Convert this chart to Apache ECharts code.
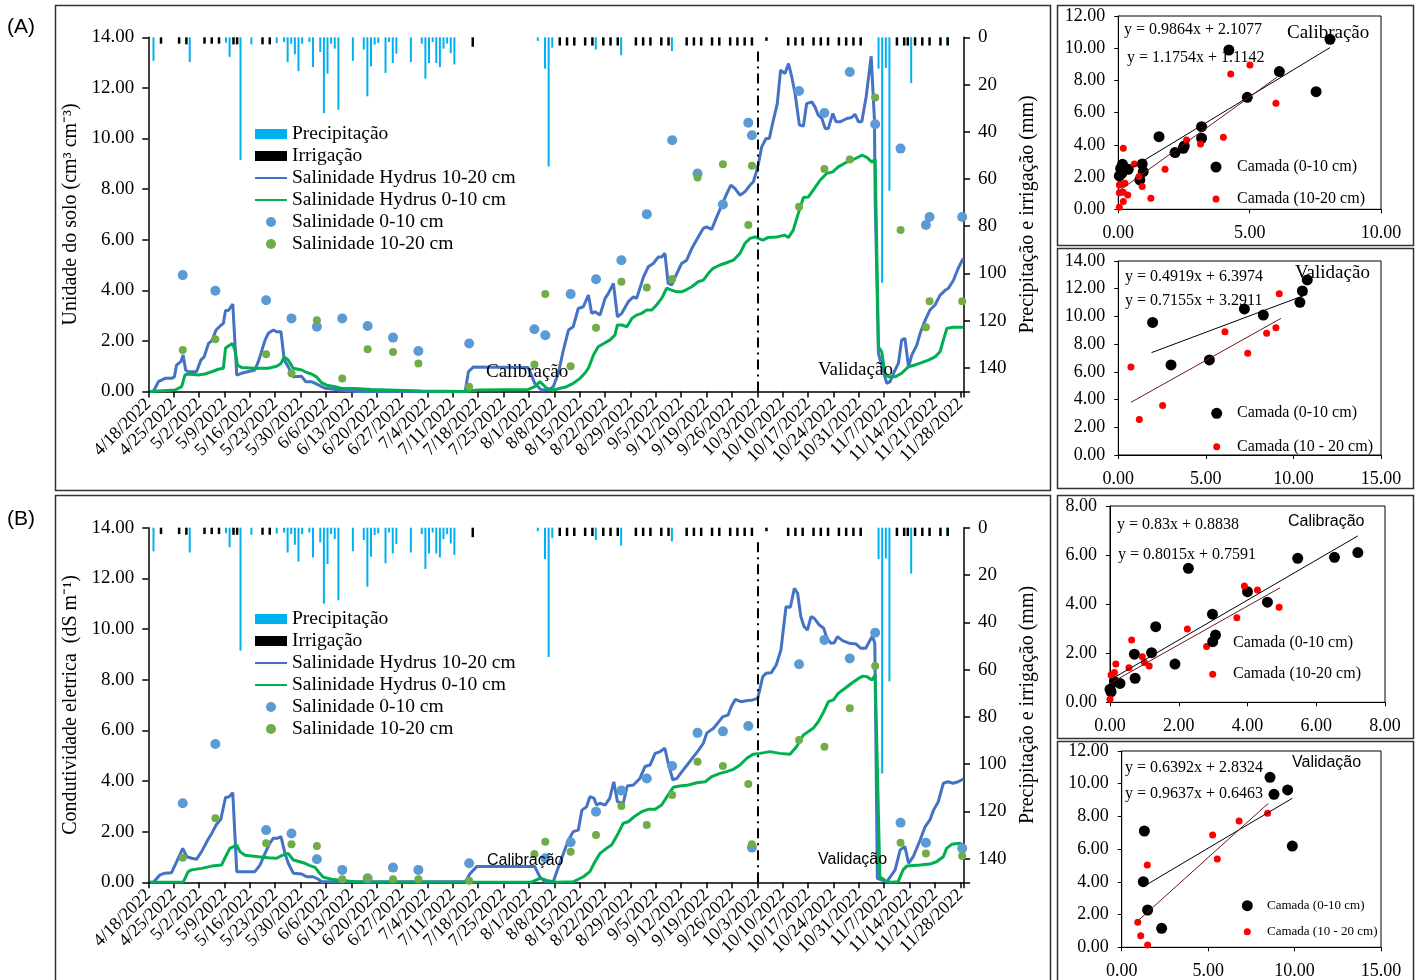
<!DOCTYPE html>
<html><head><meta charset="utf-8">
<script src="https://cdn.jsdelivr.net/npm/echarts@6/dist/echarts.min.js"></script>
<style>html,body{margin:0;padding:0;background:#fff}#c{width:1421px;height:980px}</style>
</head><body><div id="c"></div>
<script>
// ---------- DATA ----------
// day index counted from 4/18/2022
const precipDays = [1,11,21,22,25,28,35,37,38,39,40,41,42,44,45,47,48,49,50,51,52,56,59,60,61,62,63,65,66,67,68,72,75,76,77,78,79,80,81,82,83,84,107,109,110,111,123,130,144,201,202,203,204,210,220];
const precipMm   = [10,10.5,2.3,8.3,52,3,2.5,2,10.5,2.7,7.2,14.3,2.7,2,12.6,6.2,32.1,15.4,2.7,4.8,30.7,10,5.2,25,12.3,3.1,2.4,15.1,2,10.9,6.9,10.5,2.7,17.5,10.9,2,10.9,12.6,4.8,2.7,6.7,11.5,1.5,13.3,54.7,4.4,5.2,7.6,5.8,13.3,104,13,65,19.4,3];
const irrigDays  = [3,8,10,15,17,19,23,24,31,33,89,113,115,117,120,122,125,127,129,134,136,138,141,143,148,150,152,155,157,160,162,164,166,170,176,178,180,183,185,187,190,192,194,196,206,208,209,211,213,215,218,220];
const irrigMm    = [2.7,2.7,3,2.7,2.7,2.7,3,3,3,3,4,3.5,3.5,3.5,3.5,3.5,3.5,3.5,3.5,3.5,3.5,3.5,3.5,3.5,3.5,3.5,3.5,3.5,3.5,3.5,3.5,3.5,3.5,1.5,3.5,3.5,3.5,3.5,3.5,3.5,3.5,3.5,3.5,3.5,3.5,3.5,3.5,3.5,3.5,3.5,3.5,3.5];

const sampleDays = [9,18,32,39,46,53,60,67,74,88,106,109,116,123,130,137,144,151,158,165,166,179,186,193,200,207,214,215,224];
const obsA_0_10  = [4.6,3.98,3.61,2.89,2.56,2.89,2.59,2.13,1.6,1.9,2.46,2.22,3.85,4.44,5.19,7.01,9.93,8.62,7.39,10.62,10.13,11.88,11.01,12.63,10.56,9.6,6.58,6.9,6.9];
const obsA_10_20 = [1.64,2.07,1.47,0.72,2.82,0.51,1.67,1.56,1.11,0.19,1.07,3.85,1.0,2.52,4.34,4.11,4.45,8.46,8.98,6.58,8.92,7.3,8.79,9.17,11.62,6.38,2.54,3.57,3.57];
const obsB_0_10  = [3.12,5.46,2.06,1.93,0.91,0.49,0.16,0.58,0.49,0.75,null,0.95,1.58,2.79,3.62,4.1,4.59,5.9,5.96,6.17,1.37,8.61,9.57,8.84,9.85,2.35,1.56,null,1.34];
const obsB_10_20 = [0.97,2.53,1.54,1.5,1.43,0.12,0.18,0.12,0.12,0.06,1.12,1.6,1.21,1.87,3.01,2.26,3.45,4.76,4.59,3.88,1.5,5.62,5.35,6.87,8.54,1.56,1.14,null,1.04];

const hydrusA_10_20 = [[0,0],[0.9,0],[2.3,0.39],[4.1,0.52],[5.9,0.52],[6.7,0.58],[7.3,1.05],[8.5,1.18],[9.1,1.44],[9.8,0.85],[10.5,0.78],[12.8,0.78],[14.0,1.24],[14.9,1.37],[16.1,1.9],[17.0,2.0],[18.2,2.43],[19.6,2.63],[20.2,2.69],[20.8,3.2],[21.6,3.2],[22.8,3.46],[23.9,0.65],[25.2,0.72],[28.9,0.85],[30.0,1.24],[31.7,2.03],[32.6,2.3],[34.0,2.43],[34.9,2.36],[36.1,2.36],[37.0,1.24],[38.1,0.98],[39.5,0.58],[41.8,0.6],[42.9,0.39],[44.5,0.39],[46.4,0.26],[48.2,0.13],[50.1,0.1],[52.9,0.05],[56.5,0],[86.9,0],[87.8,0.78],[89.2,0.97],[104.3,0.95],[106.1,0.32],[107.9,0.06],[110.3,0.09],[111.2,0.19],[112.6,0.72],[114.0,1.64],[115.4,2.43],[116.7,2.56],[118.1,3.28],[119.5,3.35],[120.9,3.81],[121.8,3.09],[122.7,3.15],[124.1,3.02],[125.5,3.68],[126.4,3.88],[127.8,4.27],[128.9,2.95],[130.1,3.09],[131.9,3.55],[133.3,3.74],[134.2,3.68],[136.1,4.53],[137.4,4.93],[138.8,5.06],[140.2,5.32],[141.1,5.32],[142.0,5.46],[142.9,4.27],[143.9,4.21],[145.3,4.67],[146.6,5.06],[148.0,5.19],[149.4,5.65],[151.2,6.11],[152.6,6.45],[153.5,6.51],[154.9,6.41],[156.3,6.9],[157.7,7.37],[159.1,7.83],[160.2,8.16],[161.3,8.03],[162.7,7.76],[164.1,7.9],[165.5,8.16],[166.4,8.29],[167.1,8.62],[167.8,9.01],[168.7,9.67],[169.9,10.0],[170.8,10.0],[171.9,10.72],[173.0,11.38],[173.9,12.7],[175.1,12.57],[176.1,12.96],[177.0,12.43],[177.9,11.78],[179.1,10.53],[180.2,10.49],[181.1,11.38],[182.5,11.45],[183.4,11.25],[184.3,10.92],[185.3,10.79],[186.2,10.4],[187.1,10.4],[188.3,10.99],[189.2,10.66],[190.3,10.66],[192.2,10.79],[193.5,10.83],[194.4,10.96],[195.4,10.66],[196.3,10.66],[197.5,11.64],[198.9,13.25],[199.8,10.72],[200.0,7.56],[200.9,1.51],[203.2,0.32],[204.1,0.39],[205.5,0.85],[206.4,1.11],[207.3,2.03],[208.2,2.1],[209.2,0.98],[210.1,1.44],[211.5,1.84],[212.4,2.3],[213.8,2.82],[215.1,3.22],[216.5,3.42],[217.9,3.81],[219.3,4.0],[220.2,4.08],[221.6,4.4],[222.9,4.87],[224.3,5.26]];
const hydrusA_0_10 = [[0,0],[6.9,0.06],[8.7,0.19],[9.6,0.65],[10.5,0.69],[13.3,0.65],[15.1,0.69],[17.0,0.78],[18.8,0.88],[20.2,0.92],[20.8,1.71],[21.6,1.8],[22.7,1.9],[23.4,1.64],[24.1,1.05],[25.2,0.95],[28.9,0.92],[32.6,0.92],[34.9,1.0],[36.1,1.11],[37.0,1.37],[38.1,1.24],[39.5,0.92],[41.8,0.85],[43.2,0.75],[44.5,0.69],[45.9,0.58],[47.3,0.35],[48.7,0.25],[51.0,0.19],[52.9,0.12],[56.5,0.12],[61.1,0.08],[65.7,0.06],[74.9,0.02],[86.9,0],[90.5,0.06],[104.3,0.08],[106.1,0.19],[107.5,0.39],[109.4,0.13],[111.2,0.06],[114.9,0.19],[116.7,0.32],[118.6,0.52],[119.9,0.72],[120.9,0.92],[122.3,1.44],[123.6,1.77],[125.5,1.93],[126.8,2.03],[128.2,2.23],[128.9,2.63],[130.1,2.63],[131.5,2.56],[132.9,2.89],[134.2,3.02],[135.6,3.09],[137.0,3.22],[138.4,3.22],[139.7,3.42],[141.1,3.68],[142.5,4.08],[143.8,4.01],[145.2,3.94],[146.6,3.94],[148.0,4.03],[149.4,4.14],[151.2,4.34],[152.6,4.4],[154.0,4.67],[155.3,4.87],[157.2,5.0],[159.0,5.09],[160.9,5.19],[162.7,5.46],[164.1,5.86],[165.5,6.05],[166.9,6.11],[167.8,6.05],[169.0,5.98],[170.5,6.09],[172.8,6.11],[175.1,6.18],[176.1,6.09],[177.4,6.38],[178.8,7.04],[180.2,7.67],[181.6,7.69],[182.9,7.96],[184.8,8.35],[186.6,8.62],[188.3,8.68],[189.8,8.88],[192.2,9.07],[194.0,9.17],[195.4,9.27],[196.3,9.34],[197.7,9.25],[199.1,9.07],[200.0,9.17],[200.9,1.77],[201.8,1.57],[202.7,0.72],[203.6,0.58],[205.5,0.58],[207.3,0.72],[209.2,0.98],[211.0,1.05],[212.8,1.14],[214.7,1.24],[216.5,1.37],[217.9,1.57],[218.8,2.03],[219.8,2.5],[221.6,2.54],[224.3,2.54]];
const hydrusB_10_20 = [[0,0],[0.9,0],[2.7,0.29],[4.1,0.36],[5.9,0.38],[7.3,0.81],[9.0,1.34],[10.1,1.01],[11.5,0.95],[12.8,0.91],[14.2,1.21],[15.9,1.67],[17.0,1.93],[18.2,2.26],[19.5,2.49],[20.8,3.35],[21.8,3.38],[22.8,3.54],[23.9,0.42],[28.9,0.42],[30.3,0.68],[31.7,1.14],[33.0,1.54],[34.0,1.74],[35.2,1.74],[36.1,1.8],[37.2,1.14],[38.1,0.75],[39.5,0.36],[41.8,0.33],[43.2,0.22],[45.0,0.22],[46.4,0.12],[47.3,0.02],[86.9,0.02],[88.3,0.35],[90.1,0.62],[106.1,0.62],[107.5,0.22],[108.9,0.02],[111.2,0.02],[112.5,0.55],[114.0,1.14],[115.4,1.67],[116.7,2.0],[118.1,2.06],[119.1,2.85],[120.4,2.98],[121.3,3.38],[122.4,3.32],[123.2,3.05],[124.1,3.12],[125.5,3.05],[126.8,3.32],[127.9,3.97],[128.9,3.18],[130.5,3.12],[131.6,3.8],[133.3,3.84],[135.1,4.1],[136.5,4.57],[137.9,4.63],[139.3,5.09],[140.7,5.16],[142.0,5.29],[142.9,4.7],[144.2,4.04],[145.3,4.1],[146.7,4.37],[148.5,4.7],[149.9,4.96],[151.3,5.22],[152.6,5.49],[153.6,5.9],[155.4,6.08],[158.0,6.54],[159.4,6.6],[160.3,6.93],[161.4,7.22],[163.0,7.13],[164.4,7.17],[166.2,7.2],[167.6,7.26],[169.0,8.12],[169.9,8.25],[171.3,8.27],[172.7,8.58],[174.0,9.17],[175.4,10.88],[176.6,10.86],[177.7,11.61],[178.6,11.41],[179.5,10.49],[180.4,10.09],[181.3,9.96],[182.3,10.49],[183.2,10.42],[184.6,10.16],[185.8,10.03],[186.7,9.63],[187.8,9.44],[188.7,9.46],[189.6,9.7],[191.0,9.54],[192.8,9.44],[194.7,9.41],[196.0,9.24],[197.4,9.24],[199.2,9.72],[199.9,9.44],[200.6,0.16],[203.2,0.02],[205.5,0.49],[206.9,1.28],[208.2,1.41],[209.2,0.75],[210.5,1.01],[212.4,1.67],[213.8,2.2],[215.1,2.46],[216.1,2.85],[217.4,3.18],[218.8,3.91],[220.1,3.97],[221.5,3.91],[222.9,3.97],[224.3,4.07]];
const hydrusB_0_10 = [[0,0],[9.1,0],[10.5,0.42],[11.4,0.49],[14.2,0.55],[17.0,0.64],[19.7,0.68],[20.6,0.95],[22.0,1.34],[23.9,1.47],[24.8,1.21],[26.2,1.07],[29.9,1.01],[32.6,0.97],[34.9,0.95],[36.3,1.05],[38.1,1.14],[39.5,0.88],[41.3,0.81],[42.7,0.75],[44.1,0.66],[45.5,0.59],[46.4,0.42],[47.8,0.2],[50.1,0.12],[52.9,0.07],[56.5,0.02],[60,0],[105,0],[107.6,0.16],[109.4,0.07],[112.1,0],[116.7,0.02],[119.5,0.22],[121.3,0.42],[122.7,0.81],[124.1,1.14],[125.9,1.34],[127.3,1.47],[129.1,1.93],[130.5,2.33],[131.9,2.39],[133.8,2.62],[135.6,2.79],[137.4,2.88],[139.3,2.88],[141.1,3.05],[142.9,3.45],[144.3,3.75],[146.1,3.8],[148.5,3.84],[150.8,3.93],[153.1,3.97],[154.9,4.17],[157.2,4.3],[159.0,4.37],[160.9,4.46],[162.7,4.63],[164.6,4.9],[166.4,5.06],[168.2,5.09],[171.0,5.16],[173.7,5.09],[176.5,5.06],[178.3,5.35],[180.2,5.82],[181.6,5.95],[182.9,6.08],[184.3,6.34],[185.7,6.7],[187.1,7.13],[188.5,7.2],[189.8,7.46],[191.7,7.66],[193.5,7.86],[195.4,8.05],[196.6,8.14],[197.7,8.12],[199.1,7.99],[200.0,8.18],[201.3,0.22],[203.2,0.02],[204.5,0],[206.3,0.02],[207.7,0.49],[208.7,0.64],[212.4,0.68],[215.1,0.72],[216.9,0.81],[218.8,1.01],[219.7,1.34],[221.1,1.5],[223.4,1.54],[224.3,1.47]];
const splitDay = 168;      // 10/3/2022, calibration | validation
const splitTop = 13.55;    // where the split line starts

// scatter panels [x, y]
const scA_cal_0_10  = [[0.04,2.07],[0.09,2.54],[0.16,2.79],[0.13,2.23],[0.38,2.48],[0.91,2.81],[0.95,2.34],[0.82,1.82],[1.55,4.51],[2.16,3.52],[2.47,3.79],[2.51,3.93],[3.17,5.13],[3.17,4.41],[4.21,9.89],[4.91,6.95],[6.13,8.55],[7.53,7.3],[8.06,10.55]];
const scA_cal_10_20 = [[0.04,0.12],[0.04,1.03],[0.04,1.51],[0.13,1.55],[0.19,1.06],[0.19,0.48],[0.19,3.79],[0.25,1.61],[0.36,0.89],[0.61,2.81],[0.79,2.03],[0.91,1.41],[1.24,0.68],[1.78,2.48],[2.6,4.3],[3.13,4.06],[4.0,4.47],[4.28,8.4],[5.01,8.96],[6.0,6.58]];
const scA_val_0_10  = [[1.96,9.57],[3.01,6.5],[5.2,6.86],[7.2,10.54],[8.28,10.1],[10.37,11.02],[10.51,11.84],[10.79,12.63]];
const scA_val_10_20 = [[0.72,6.35],[1.2,2.57],[2.53,3.58],[6.09,8.9],[7.39,7.34],[8.47,8.78],[9.0,9.19],[9.19,11.64]];
const scB_cal_0_10  = [[0,0.53],[0.03,0.43],[0.13,0.84],[0.29,0.77],[0.71,1.96],[0.73,0.98],[1.21,2.02],[1.33,3.08],[1.89,1.56],[2.28,5.46],[2.98,3.59],[3.07,2.74],[4.0,4.51],[4.58,4.08],[5.46,5.87],[6.53,5.91],[7.21,6.1]];
const scB_cal_10_20 = [[0,0.12],[0.03,1.11],[0.13,1.21],[0.17,1.56],[0.55,1.41],[0.63,2.54],[0.94,1.86],[1.0,1.62],[1.14,1.48],[2.25,2.99],[2.81,2.27],[3.69,3.45],[3.91,4.74],[4.29,4.58],[4.92,3.87]];
const scB_val_0_10  = [[1.31,7.11],[1.25,4.01],[1.5,2.28],[2.31,1.16],[8.58,10.39],[8.81,9.35],[9.6,9.62],[9.87,6.19]];
const scB_val_10_20 = [[0.93,1.53],[1.1,0.71],[1.48,5.03],[1.5,0.14],[5.26,6.87],[5.53,5.4],[6.79,7.72],[8.44,8.19]];
// trend line end points
const trA_cal_0_10 = [[0.06,2.13],[8.06,10.04]], trA_cal_10_20 = [[0.04,1.16],[6.03,8.19]];
const trA_val_0_10 = [[1.9,7.39],[10.79,11.6]],  trA_val_10_20 = [[0.72,3.8],[9.29,9.86]];
const trB_cal_0_10 = [[0,0.91],[7.21,6.78]],     trB_cal_10_20 = [[0,0.77],[4.95,4.67]];
const trB_val_0_10 = [[1.25,3.71],[9.87,9.11]],  trB_val_10_20 = [[0.93,1.61],[8.48,8.8]];
const eqA_cal = ['y = 0.9864x + 2.1077','y = 1.1754x + 1.1142'];
const eqA_val = ['y = 0.4919x + 6.3974','y = 0.7155x + 3.2911'];
const eqB_cal = ['y = 0.83x + 0.8838','y = 0.8015x + 0.7591'];
const eqB_val = ['y = 0.6392x + 2.8324','y = 0.9637x + 0.6463'];

// ---------- BUILD ----------
const SERIF = 'Liberation Serif', SANS = 'Liberation Sans';
const C_PREC = '#00B0F0', C_BLUE = '#4472C4', C_GREEN = '#00B050', C_DOT1 = '#5B9BD5', C_DOT2 = '#70AD47';
const START = Date.UTC(2022,3,18);
function dayLabel(d){ const t = new Date(START + d*86400000); return (t.getUTCMonth()+1)+'/'+t.getUTCDate()+'/'+t.getUTCFullYear(); }
const ctr = d => d + 0.5; // each day occupies a band; marks sit at its centre
const pairs = (days, vals) => days.map((d,i)=>[ctr(d), vals[i]]).filter(p=>p[1]!=null);
const linePts = arr => arr.map(p=>[ctr(p[0]), p[1]]);

const axLine = {show:true, lineStyle:{color:'#000', width:1.5}};
const axTick = {show:true, length:6, lineStyle:{color:'#000', width:1.5}};

const grids = [
  {left:148.3, top:37.3, width:815.7, height:354.2},
  {left:148.3, top:527.7, width:815.7, height:354.6},
  {left:1118.3, top:16, width:262.7, height:193.3},
  {left:1118.3, top:261, width:262.7, height:194},
  {left:1110, top:506, width:275, height:196.3},
  {left:1121.7, top:751, width:259.3, height:196.3}
].map((g,i)=>Object.assign({outerBoundsMode:'none', containLabel:false, show:i>=2, borderColor:'#000', borderWidth:1}, g));

function timeX(gi){ return {type:'value', gridIndex:gi, min:0, max:225, interval:7, axisLine:axLine, axisTick:axTick, splitLine:{show:false},
  axisLabel:{rotate:45, margin:10, hideOverlap:false, fontFamily:SERIF, fontSize:18, color:'#000', formatter:v=> v>224.5 ? '' : dayLabel(v)}}; }
function leftY(gi, name){ return {type:'value', gridIndex:gi, position:'left', min:0, max:14, interval:2, axisLine:axLine, axisTick:axTick, splitLine:{show:false},
  name:name, nameLocation:'middle', nameRotate:90, nameGap:66, nameTextStyle:{fontFamily:SERIF, fontSize:20, color:'#000'},
  axisLabel:{margin:14, fontFamily:SERIF, fontSize:19, color:'#000', formatter:v=>v.toFixed(2)}}; }
function rightY(gi){ return {type:'value', gridIndex:gi, position:'right', inverse:true, min:0, max:150, interval:20, axisLine:axLine, axisTick:axTick, splitLine:{show:false},
  name:'Precipitação e irrigação (mm)', nameLocation:'middle', nameRotate:90, nameGap:54, nameTextStyle:{fontFamily:SERIF, fontSize:20, color:'#000'},
  axisLabel:{margin:14, fontFamily:SERIF, fontSize:19, color:'#000', formatter:v=> v>140 ? '' : String(v)}}; }
function scAxis(gi, max, interval){ return {type:'value', gridIndex:gi, min:0, max:max, interval:interval, axisLine:{show:true, lineStyle:{color:'#000', width:1}}, axisTick:{show:true, length:4, lineStyle:{color:'#000'}}, splitLine:{show:false},
  axisLabel:{margin:15, fontFamily:SERIF, fontSize:18, color:'#000', formatter:v=>v.toFixed(2)}}; }

const xAxes = [timeX(0), timeX(1), scAxis(2,10,5), scAxis(3,15,5), scAxis(4,8,2), scAxis(5,15,5)];
const yAxes = [leftY(0,'Unidade do solo (cm³ cm⁻³)'), rightY(0), leftY(1,'Condutividade eletrica  (dS m⁻¹)'), rightY(1),
  scAxis(2,12,2), scAxis(3,14,2), scAxis(4,8,2), scAxis(5,12,2)];
yAxes.slice(4).forEach(a=>{ a.axisLabel.margin = 13; });

function mainSeries(xi, yl, yr, hy10_20, hy0_10, o0_10, o10_20){
  return [
    {name:'Precipitação', type:'bar', xAxisIndex:xi, yAxisIndex:yr, barWidth:2, barGap:'-100%', itemStyle:{color:C_PREC}, data:pairs(precipDays, precipMm), z:2},
    {name:'Irrigação', type:'bar', xAxisIndex:xi, yAxisIndex:yr, barWidth:2.5, barGap:'-100%', itemStyle:{color:'#000'}, data:pairs(irrigDays, irrigMm), z:2},
    {name:'Salinidade Hydrus 10-20 cm', type:'line', xAxisIndex:xi, yAxisIndex:yl, symbol:'none', lineStyle:{color:C_BLUE, width:3}, itemStyle:{color:C_BLUE}, data:linePts(hy10_20), z:3,
      markLine:{silent:true, symbol:'none', label:{show:false}, lineStyle:{color:'#000', width:2, type:[10,5,2,5]},
        data:[[{xAxis:splitDay, yAxis:0},{xAxis:splitDay, yAxis:splitTop}]]}},
    {name:'Salinidade Hydrus 0-10 cm', type:'line', xAxisIndex:xi, yAxisIndex:yl, symbol:'none', lineStyle:{color:C_GREEN, width:3}, itemStyle:{color:C_GREEN}, data:linePts(hy0_10), z:3},
    {name:'Salinidade 0-10 cm', type:'scatter', xAxisIndex:xi, yAxisIndex:yl, symbolSize:10, itemStyle:{color:C_DOT1, opacity:1}, data:pairs(sampleDays, o0_10), z:4},
    {name:'Salinidade 10-20 cm', type:'scatter', xAxisIndex:xi, yAxisIndex:yl, symbolSize:8, itemStyle:{color:C_DOT2, opacity:1}, data:pairs(sampleDays, o10_20), z:4}
  ];
}
function scSeries(i, p0, p1, t0, t1){
  return [
    {name:'Camada (0-10 cm)', type:'scatter', xAxisIndex:i, yAxisIndex:i+2, symbolSize:11, itemStyle:{color:'#000', opacity:1}, data:p0},
    {name:'Camada (10-20 cm)', type:'scatter', xAxisIndex:i, yAxisIndex:i+2, symbolSize:7, itemStyle:{color:'#FF0000', opacity:1}, data:p1},
    {type:'line', xAxisIndex:i, yAxisIndex:i+2, symbol:'none', lineStyle:{color:'#000', width:1}, data:t0, silent:true},
    {type:'line', xAxisIndex:i, yAxisIndex:i+2, symbol:'none', lineStyle:{color:'#6B1A1A', width:1}, data:t1, silent:true}
  ];
}
const series = [].concat(
  mainSeries(0,0,1, hydrusA_10_20, hydrusA_0_10, obsA_0_10, obsA_10_20),
  mainSeries(1,2,3, hydrusB_10_20, hydrusB_0_10, obsB_0_10, obsB_10_20),
  scSeries(2, scA_cal_0_10, scA_cal_10_20, trA_cal_0_10, trA_cal_10_20),
  scSeries(3, scA_val_0_10, scA_val_10_20, trA_val_0_10, trA_val_10_20),
  scSeries(4, scB_cal_0_10, scB_cal_10_20, trB_cal_0_10, trB_cal_10_20),
  scSeries(5, scB_val_0_10, scB_val_10_20, trB_val_0_10, trB_val_10_20)
);

const noDot = {color:'rgba(0,0,0,0)', opacity:0, borderWidth:0};
function mainLegend(top){ return {left:249, top:top, orient:'vertical', itemWidth:32, itemHeight:10, itemGap:2, selectedMode:false,
  textStyle:{fontFamily:SERIF, fontSize:19.5, color:'#000'},
  data:[{name:'Precipitação', icon:'rect'},{name:'Irrigação', icon:'rect'},
        {name:'Salinidade Hydrus 10-20 cm', itemStyle:noDot},{name:'Salinidade Hydrus 0-10 cm', itemStyle:noDot},
        {name:'Salinidade 0-10 cm', icon:'circle'},{name:'Salinidade 10-20 cm', icon:'circle'}]}; }

// ---------- ANNOTATIONS ----------
const G = [];
function box(x,y,w,h){ G.push({type:'rect', silent:true, shape:{x:x,y:y,width:w,height:h}, style:{fill:'none', stroke:'#333', lineWidth:1.5}, z:0}); }
function txt(x,y,s,size,fam){ G.push({type:'text', silent:true, x:x, y:y, style:{text:s, fontSize:size, fontFamily:fam, fill:'#000', verticalAlign:'middle', align:'left'}, z:10}); }
function dot(x,y,r,c){ G.push({type:'circle', silent:true, shape:{cx:x,cy:y,r:r}, style:{fill:c}, z:10}); }
box(55.5,5.5,995,485); box(55.5,495.5,995,486);
box(1057.5,5.5,356,240); box(1057.5,248.5,356,240); box(1057.5,495.5,356,243); box(1057.5,741.5,356,240);
txt(7,27,'(A)',21,SANS); txt(7,519,'(B)',21,SANS);
txt(486,372,'Calibração',19,SERIF); txt(818,370,'Validação',19,SERIF);
txt(487,861,'Calibração',16,SANS); txt(818,860,'Validação',16,SANS);
// scatter A calibration
txt(1124,30,eqA_cal[0],16,SERIF); txt(1127,58,eqA_cal[1],16,SERIF); txt(1287,33,'Calibração',19,SERIF);
dot(1216,167,5.5,'#000'); txt(1237,167,'Camada (0-10 cm)',16,SERIF);
dot(1216,199,3.5,'#FF0000'); txt(1237,199,'Camada (10-20 cm)',16,SERIF);
// scatter A validation
txt(1125,277,eqA_val[0],16,SERIF); txt(1125,301,eqA_val[1],16,SERIF); txt(1295,273,'Validação',19,SERIF);
dot(1216.7,413.3,5.5,'#000'); txt(1237,413,'Camada (0-10 cm)',16,SERIF);
dot(1216.7,446.7,3.5,'#FF0000'); txt(1237,447,'Camada (10 - 20 cm)',16,SERIF);
// scatter B calibration
txt(1117,525,eqB_cal[0],16,SERIF); txt(1118,555,eqB_cal[1],16,SERIF); txt(1288,522,'Calibração',16,SANS);
dot(1212.7,641.7,5.5,'#000'); txt(1233,643,'Camada (0-10 cm)',16,SERIF);
dot(1212.7,674.3,3.5,'#FF0000'); txt(1233,674,'Camada (10-20 cm)',16,SERIF);
// scatter B validation
txt(1125,768,eqB_val[0],16,SERIF); txt(1125,794,eqB_val[1],16,SERIF); txt(1292,763,'Validação',16,SANS);
dot(1247.3,905.7,5.5,'#000'); txt(1267,906,'Camada (0-10 cm)',13,SERIF);
dot(1247.3,931.7,3.5,'#FF0000'); txt(1267,932,'Camada (10 - 20 cm)',13,SERIF);

const chart = echarts.init(document.getElementById('c'), null, {renderer:'canvas', width:1421, height:980});
chart.setOption({
  animation:false, backgroundColor:'#fff',
  textStyle:{fontFamily:SERIF},
  grid:grids, xAxis:xAxes, yAxis:yAxes,
  legend:[mainLegend(119), mainLegend(604)],
  series:series,
  graphic:G
});
</script></body></html>
